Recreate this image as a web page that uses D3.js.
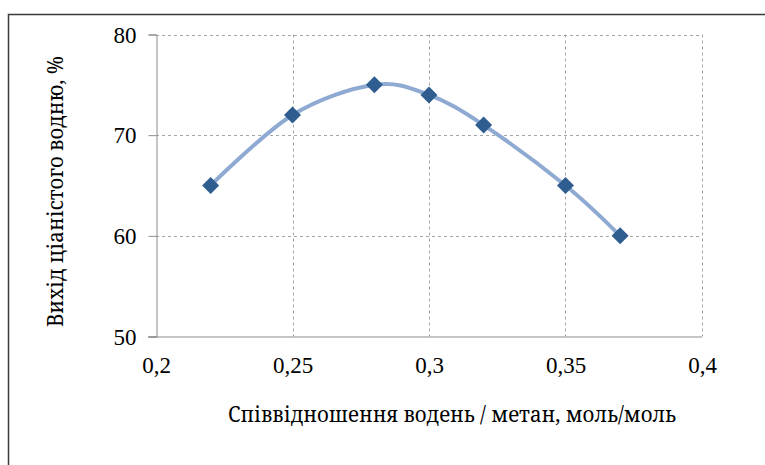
<!DOCTYPE html>
<html><head><meta charset="utf-8">
<script src="https://cdn.jsdelivr.net/npm/d3@7"></script>
<style>body{margin:0;background:#fff;}</style>
</head><body><svg id="c" width="765" height="465"></svg>
<script>
const xValues = [0.22, 0.25, 0.28, 0.30, 0.32, 0.35, 0.37];
const yValues = [65, 72, 75, 74, 71, 65, 60];
const xTicks = [0.2, 0.25, 0.3, 0.35, 0.4];
const yTicks = [50, 60, 70, 80];
const xTitle = "Співвідношення водень / метан, моль/моль";
const yTitle = "Вихід ціаністого водню, %";

const numFont = "'Liberation Serif', 'Times New Roman', serif";
const cyrFont = "'Noto Serif', 'DejaVu Serif', serif";

const svg = d3.select("#c");
const L = 156, R = 702, T = 34.5, B = 336.5;
const x = d3.scaleLinear().domain([0.2, 0.4]).range([L, R]);
const y = d3.scaleLinear().domain([50, 80]).range([B, T]);
const fmt = d => String(d).replace(".", ",");

svg.append("rect").attr("x", 8.5).attr("y", 14.5).attr("width", 800).attr("height", 500)
  .attr("fill", "none").attr("stroke", "#3a3a3a").attr("stroke-width", 1.5);

svg.append("g").selectAll("line").data(yTicks.filter(d => d > 50)).join("line")
  .attr("x1", L).attr("x2", R).attr("y1", d => Math.round(y(d)) + 0.5).attr("y2", d => Math.round(y(d)) + 0.5)
  .attr("stroke", "#a6a6a6").attr("stroke-dasharray", "3,3");
svg.append("g").selectAll("line").data(xTicks.filter(d => d > 0.2)).join("line")
  .attr("y1", T).attr("y2", B).attr("x1", d => Math.round(x(d)) + 0.5).attr("x2", d => Math.round(x(d)) + 0.5)
  .attr("stroke", "#a6a6a6").attr("stroke-dasharray", "3,3");

const yAxis = d3.axisLeft(y).tickValues(yTicks).tickSize(8).tickPadding(12).tickFormat(d => d);
const gy = svg.append("g").attr("transform", `translate(${L + 0.5},0)`).call(yAxis);
gy.attr("font-family", numFont).attr("font-size", 23);
gy.select(".domain").attr("stroke", "#8c8c8c");
gy.selectAll(".tick line").attr("stroke", "#8c8c8c");
gy.selectAll(".tick text").attr("dy", "0.33em").attr("fill", "#000");

const xAxis = d3.axisBottom(x).tickValues(xTicks).tickSize(0).tickPadding(20).tickFormat(fmt);
const gx = svg.append("g").attr("transform", `translate(0,${B + 0.5})`).call(xAxis);
gx.attr("font-family", numFont).attr("font-size", 23);
gx.select(".domain").attr("stroke", "#8c8c8c").attr("d", `M${L - 8},0H${R}`);
gx.selectAll(".tick text").attr("fill", "#000");

const line = d3.line().x((d, i) => x(xValues[i])).y(d => y(d)).curve(d3.curveCardinal.tension(0));
svg.append("path").datum(yValues).attr("d", line).attr("fill", "none")
  .attr("stroke", "#8eaad2").attr("stroke-width", 4);

svg.append("g").selectAll("path").data(yValues).join("path")
  .attr("transform", (d, i) => `translate(${x(xValues[i])},${y(d)})`)
  .attr("d", "M0,-8.5L8.5,0L0,8.5L-8.5,0Z").attr("fill", "#2f5d90");

svg.append("text").attr("x", 452).attr("y", 422).attr("text-anchor", "middle")
  .attr("font-family", cyrFont).attr("font-size", 21)
  .attr("textLength", 448).attr("lengthAdjust", "spacingAndGlyphs").text(xTitle);
svg.append("text").attr("transform", "translate(63,191.5) rotate(-90)").attr("text-anchor", "middle")
  .attr("font-family", cyrFont).attr("font-size", 21)
  .attr("textLength", 271).attr("lengthAdjust", "spacingAndGlyphs").text(yTitle);
</script></body></html>
